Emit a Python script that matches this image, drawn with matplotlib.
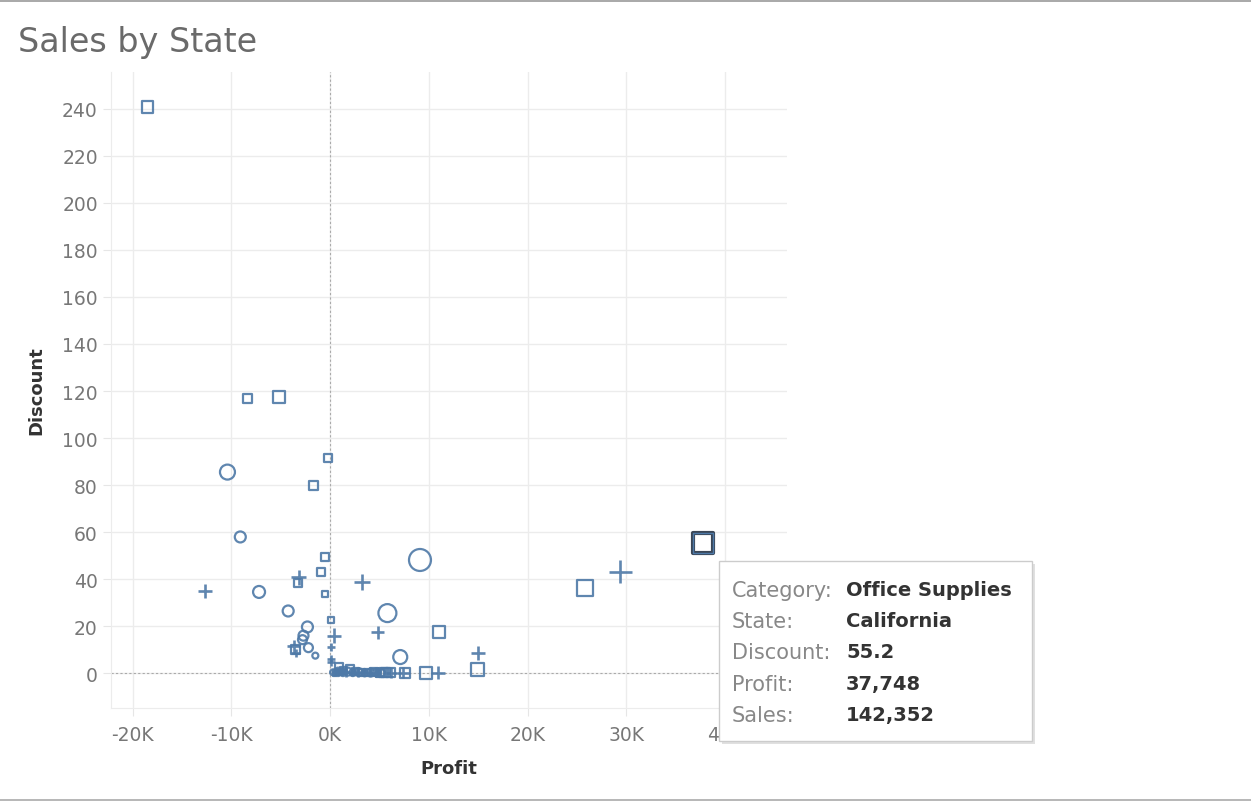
import numpy as np
import matplotlib
matplotlib.use("Agg")
import matplotlib.pyplot as plt
from matplotlib.ticker import FuncFormatter, MultipleLocator
from matplotlib.patches import Rectangle
from matplotlib.lines import Line2D

plt.rcParams['font.family'] = ['DejaVu Sans']

# Office Supplies (squares): profit in K, discount, sales
office_profit = [-18.5, -8.4, -5.2, -0.2, -1.7, -0.5, -0.9, -0.5, 0.1, -3.3, -3.5,
                 25.8, 37.748, 11.0, 14.9, 9.7, 7.6, 5.4,
                 0.9, 1.4, 2.0, 2.6, 3.2, 3.8, 4.4, 5.0, 5.6, 6.1, 1.0, 0.6]
office_discount = [240.9, 117.0, 117.4, 91.5, 79.6, 49.4, 43.0, 33.6, 22.5, 38.2, 10.2,
                   36.2, 55.2, 17.4, 1.7, 0.2, 0.2, 0.3,
                   2.5, 1.2, 1.8, 0.8, 0.4, 0.3, 0.5, 0.2, 0.3, 0.2, 0.5, 0.2]
office_sales = [51000, 28800, 51000, 22800, 28800, 22800, 22800, 12800, 12800, 22800, 28800,
                91100, 142352, 51000, 60100, 51000, 35600, 28800,
                22800, 17400, 22800, 17400, 17400, 17400, 22800, 22800, 28800, 28800, 12800, 12800]

# Furniture (circles)
furn_profit = [-10.4, -9.1, -7.2, -4.25, -2.3, -2.7, -2.8, -2.2, -1.5, 9.1, 5.8, 7.1,
               0.3, 0.8, 1.3, 1.8, 2.3, 2.9, 3.5, 4.1, 4.7, 5.2]
furn_discount = [85.5, 57.9, 34.5, 26.4, 19.6, 15.9, 14.2, 10.8, 7.4, 48.1, 25.5, 6.8,
                 0.3, 0.8, 0.2, 0.6, 0.2, 0.4, 0.1, 0.2, 0.3, 0.1]
furn_sales = [80000, 43000, 51000, 43000, 43000, 35600, 28800, 28800, 12800, 172000, 115300, 69800,
              12800, 17400, 17400, 22800, 17400, 22800, 17400, 22800, 22800, 17400]

# Technology (plus)
tech_profit = [-12.7, -3.2, 3.2, 0.4, 4.8, 29.4, 15.0, 10.9, -3.7, -3.5, 0.1, 0.1, 0.1,
               7.4, 6.2, 0.5, 1.1, 1.6, 2.2, 2.8, 3.4, 4.0, 4.6]
tech_discount = [34.9, 40.7, 38.6, 15.9, 17.3, 43.0, 8.5, 0.2, 11.4, 8.5, 11.2, 6.0, 4.7,
                 0.2, 0.2, 0.5, 0.9, 0.3, 0.5, 0.2, 0.6, 0.1, 0.2]
tech_sales = [60100, 69800, 80000, 69800, 51000, 172000, 60100, 60100, 51000, 22800, 22800, 17400, 17400,
              43000, 35600, 17400, 17400, 22800, 17400, 22800, 17400, 17400, 22800]

# hovered mark
hl_category = "Office Supplies"
hl_state = "California"
hl_index = 12

blue = '#4e79a7'


def msize(sales):
    return np.array(sales) * 207.0 / 142352


fig = plt.figure(figsize=(12.51, 8.03), dpi=100)
ax = fig.add_axes([0.0887, 0.117, 0.5406, 0.792])

ax.scatter(office_profit, office_discount, s=msize(office_sales), marker='s',
           facecolors='none', edgecolors=blue, linewidths=1.6, alpha=0.9, zorder=3)
ax.scatter(furn_profit, furn_discount, s=msize(furn_sales), marker='o',
           facecolors='none', edgecolors=blue, linewidths=1.6, alpha=0.9, zorder=3)
ax.scatter(tech_profit, tech_discount, s=msize(tech_sales) * 1.1, marker='+',
           color=blue, linewidths=1.9, alpha=0.9, zorder=3)

# highlighted mark
ax.scatter([office_profit[hl_index]], [office_discount[hl_index]],
           s=msize([office_sales[hl_index]]), marker='s', facecolors='none',
           edgecolors='#3a4656', linewidths=3.0, zorder=4)
ax.scatter([office_profit[hl_index]], [office_discount[hl_index]],
           s=msize([office_sales[hl_index]]), marker='s', facecolors='none',
           edgecolors=blue, linewidths=1.0, zorder=5)

ax.set_xlim(-22.2, 46.3)
ax.set_ylim(-14.9, 255.7)
ax.xaxis.set_major_locator(MultipleLocator(10))
ax.yaxis.set_major_locator(MultipleLocator(20))
ax.xaxis.set_major_formatter(FuncFormatter(lambda v, p: '%dK' % round(v)))
ax.grid(True, color='#ececec', linewidth=1.0, zorder=0)
ax.set_axisbelow(True)
ax.axvline(0, color='#aaaaaa', linestyle=(0, (2, 2)), linewidth=0.8, zorder=1)
ax.axhline(0, color='#aaaaaa', linestyle=(0, (2, 2)), linewidth=0.8, zorder=1)

for side in ['top', 'right']:
    ax.spines[side].set_visible(False)
for side in ['left', 'bottom']:
    ax.spines[side].set_color('#ececec')
ax.tick_params(colors='#e6e6e6', labelcolor='#777777', labelsize=13.5, length=6)
ax.tick_params(axis='x', pad=6)

ax.set_xlabel('Profit', fontsize=13, fontweight='bold', color='#333333', labelpad=11)
ax.set_ylabel('Discount', fontsize=13, fontweight='bold', color='#333333', labelpad=12)

fig.text(0.0144, 0.947, 'Sales by State', fontsize=24, color='#6a6a6a', va='center')

# frame lines
fig.add_artist(Line2D([0, 1], [0.997, 0.997], color='#999999', linewidth=1.2))
fig.add_artist(Line2D([0, 1], [0.003, 0.003], color='#aaaaaa', linewidth=1.2))

# tooltip
W, H = 1251.0, 803.0
bx0, by0, bx1, by1 = 719, 562, 1032, 742
shadow = Rectangle(((bx0 + 3) / W, 1 - (by1 + 3) / H), (bx1 - bx0) / W, (by1 - by0) / H,
                   transform=fig.transFigure, facecolor='#000000', alpha=0.12,
                   edgecolor='none', zorder=8)
box = Rectangle((bx0 / W, 1 - by1 / H), (bx1 - bx0) / W, (by1 - by0) / H,
                transform=fig.transFigure, facecolor='white', edgecolor='#cccccc',
                linewidth=1.0, zorder=9)
fig.add_artist(shadow)
fig.add_artist(box)

tip_labels = ['Category:', 'State:', 'Discount:', 'Profit:', 'Sales:']
tip_values = [hl_category, hl_state,
              '%.1f' % office_discount[hl_index],
              '{:,}'.format(round(office_profit[hl_index] * 1000)),
              '{:,}'.format(office_sales[hl_index])]
row_y = [591, 622, 653, 685, 716]
for lab, val, yy in zip(tip_labels, tip_values, row_y):
    fig.text(732 / W, 1 - yy / H, lab, fontsize=15, color='#888888',
             va='center', zorder=10)
    fig.text(846 / W, 1 - yy / H, val, fontsize=14, color='#333333',
             fontweight='bold', va='center', zorder=10)

fig.savefig('out.png', dpi=100)
